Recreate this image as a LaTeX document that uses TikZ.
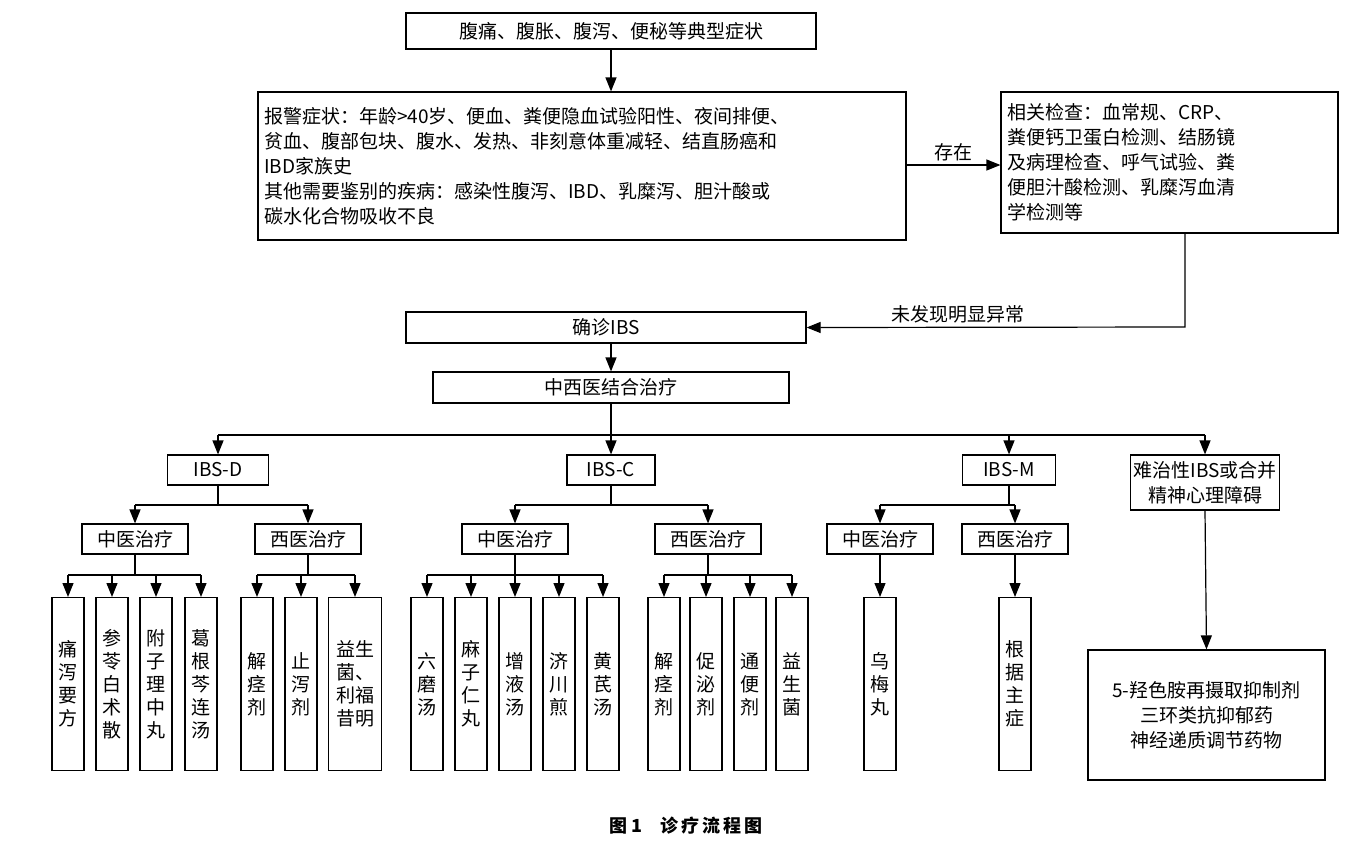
\documentclass[tikz,border=0pt]{standalone}
\usepackage{fontspec}
\setmainfont{Noto Sans CJK SC}
\usetikzlibrary{arrows.meta}
\begin{document}
\begin{tikzpicture}[x=1pt,y=-1pt,
  bx/.style={draw,line width=1.2pt,inner sep=3pt,font=\fontsize{19}{25}\selectfont},
  leaf/.style={draw,line width=1.2pt,anchor=north,minimum height=173pt,minimum width=32pt,inner sep=1pt,align=center,font=\fontsize{19}{23}\selectfont},
  ar/.style={-{Triangle[length=14pt,width=11pt]},line width=1.2pt},
  ln/.style={line width=1.2pt}]
\useasboundingbox (0,0) rectangle (1371,847);
\node[bx,minimum width=410pt,minimum height=36pt] (a) at (611,31) {腹痛、腹胀、腹泻、便秘等典型症状};
\node[bx,minimum width=648pt,minimum height=148pt,text width=636pt,align=left] (b) at (582,166) {报警症状：年龄>40岁、便血、粪便隐血试验阳性、夜间排便、\\贫血、腹部包块、腹水、发热、非刻意体重减轻、结直肠癌和\\IBD家族史\\其他需要鉴别的疾病：感染性腹泻、IBD、乳糜泻、胆汁酸或\\碳水化合物吸收不良};
\node[bx,minimum width=337pt,minimum height=141pt,text width=325pt,align=left] (c) at (1169.5,162.5) {相关检查：血常规、CRP、\\粪便钙卫蛋白检测、结肠镜\\及病理检查、呼气试验、粪\\便胆汁酸检测、乳糜泻血清\\学检测等};
\node[bx,minimum width=400pt,minimum height=31pt] (d) at (606,327.5) {确诊IBS};
\node[bx,minimum width=356pt,minimum height=31pt] (e) at (611,387.5) {中西医结合治疗};
\draw[ar] (a) -- (a|-b.north);
\draw[ar] (b.east|-0,165) -- node[above,font=\fontsize{19}{25}\selectfont]{存在} (c.west|-0,165);
\coordinate (c1) at (1185,327);
\draw[ar] (c1|-c.south) -- (c1) -- node[above,font=\fontsize{19}{25}\selectfont,pos=0.6]{未发现明显异常} (d.east);
\draw[ar] (611,343) -- (e.north);
% level 1
\node[bx,minimum width=101pt,minimum height=30pt] (D) at (218,470) {IBS-D};
\node[bx,minimum width=88pt,minimum height=30pt] (C) at (611,470) {IBS-C};
\node[bx,minimum width=93pt,minimum height=30pt] (M) at (1009,470) {IBS-M};
\node[bx,minimum width=126pt,minimum height=55pt,align=center] (R) at (1205,482.5) {难治性IBS或合并\\精神心理障碍};
\coordinate (h1) at (611,435);
\draw[ln] (e.south) -- (h1);
\draw[ln] (218,435) -- (1205,435);
\foreach \n in {D,C,M,R} \draw[ar] (\n.north|-h1) -- (\n.north);
% level 2
\tikzset{tr/.style={bx,minimum width=106pt,minimum height=30pt}}
\node[tr] (D1) at (135,539) {中医治疗};
\node[tr] (D2) at (308,539) {西医治疗};
\node[tr] (C1) at (515,539) {中医治疗};
\node[tr] (C2) at (708,539) {西医治疗};
\node[tr] (M1) at (880,539) {中医治疗};
\node[tr] (M2) at (1015,539) {西医治疗};
\foreach \p/\a/\b in {D/D1/D2,C/C1/C2,M/M1/M2}{
  \draw[ln] (\p.south) -- (\p.south|-0,505);
  \draw[ln] (\a.north|-0,505) -- (\b.north|-0,505);
  \draw[ar] (\a.north|-0,505) -- (\a.north);
  \draw[ar] (\b.north|-0,505) -- (\b.north);
}
% leaves
\node[leaf] (l1) at (68,597) {痛\\泻\\要\\方};
\node[leaf] (l2) at (112,597) {参\\苓\\白\\术\\散};
\node[leaf] (l3) at (156,597) {附\\子\\理\\中\\丸};
\node[leaf] (l4) at (201,597) {葛\\根\\芩\\连\\汤};
\node[leaf] (l5) at (257,597) {解\\痉\\剂};
\node[leaf] (l6) at (301,597) {止\\泻\\剂};
\node[leaf,minimum width=53pt] (l7) at (355,597) {益生\\菌、\\利福\\昔明};
\node[leaf] (l8) at (427,597) {六\\磨\\汤};
\node[leaf] (l9) at (471,597) {麻\\子\\仁\\丸};
\node[leaf] (l10) at (515,597) {增\\液\\汤};
\node[leaf] (l11) at (559,597) {济\\川\\煎};
\node[leaf] (l12) at (603,597) {黄\\芪\\汤};
\node[leaf] (l13) at (664,597) {解\\痉\\剂};
\node[leaf] (l14) at (706,597) {促\\泌\\剂};
\node[leaf] (l15) at (750,597) {通\\便\\剂};
\node[leaf] (l16) at (792,597) {益\\生\\菌};
\node[leaf] (l17) at (880,597) {乌\\梅\\丸};
\node[leaf] (l18) at (1015,597) {根\\据\\主\\症};
\node[bx,minimum width=237pt,minimum height=130pt,align=center] (r1) at (1206.5,715) {5-羟色胺再摄取抑制剂\\三环类抗抑郁药\\神经递质调节药物};
\foreach \p/\a/\b/\L in {D1/l1/l4/{l1,l2,l3,l4},D2/l5/l7/{l5,l6,l7},C1/l8/l12/{l8,l9,l10,l11,l12},C2/l13/l16/{l13,l14,l15,l16}}{
  \draw[ln] (\p.south) -- (\p.south|-0,575);
  \draw[ln] (\a.north|-0,575) -- (\b.north|-0,575);
  \foreach \q in \L \draw[ar] (\q.north|-0,575) -- (\q.north);
}
\draw[ar] (M1.south) -- (l17.north);
\draw[ar] (M2.south) -- (l18.north);
\draw[ar] (R.south) -- (r1.north);
\node[font=\fontsize{18}{22}\selectfont\bfseries] (cap) at (686,826) {图 1\quad 诊\,疗\,流\,程\,图};
\end{tikzpicture}
\end{document}
